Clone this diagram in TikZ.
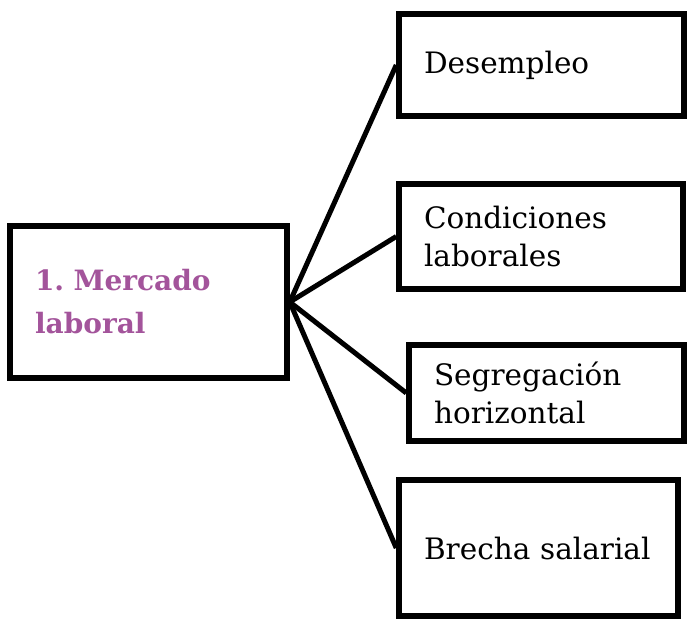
\documentclass[tikz,border=0pt]{standalone}
\usepackage{fontspec}
\setmainfont{DejaVu Serif}
\usepackage{tikz}
\definecolor{tema}{RGB}{163,84,155}
\frenchspacing

\begin{document}
\begin{tikzpicture}[x=1pt,y=-1pt,
  caja/.style={draw,line width=5.5pt,rectangle,inner xsep=25pt,inner ysep=0pt,align=left,
    font=\fontsize{29.5}{38}\selectfont},
  enlace/.style={line width=5pt}]
\useasboundingbox (0,0) rectangle (687,620);
\node (mercado) at (148.5,302) [caja,text width=227pt,minimum height=152pt,
  text=tema,font=\fontsize{28}{43}\selectfont\bfseries]{1. Mercado\\laboral};
\node (desempleo) at (541.5,65) [caja,text width=235pt,minimum height=102pt]{Desempleo};
\node (condiciones) at (541,236.5) [caja,text width=234pt,minimum height=105pt]{Condiciones\\laborales};
\node (segregacion) at (546.5,393) [caja,text width=225pt,minimum height=96pt]{Segregación\\horizontal};
\node (brecha) at (538.5,548) [caja,text width=229pt,minimum height=136pt]{Brecha salarial};
\draw[enlace] (mercado.east) -- (desempleo.west);
\draw[enlace] (mercado.east) -- (condiciones.west);
\draw[enlace] (mercado.east) -- (segregacion.west);
\draw[enlace] (mercado.east) -- (brecha.west);
\end{tikzpicture}
\end{document}
